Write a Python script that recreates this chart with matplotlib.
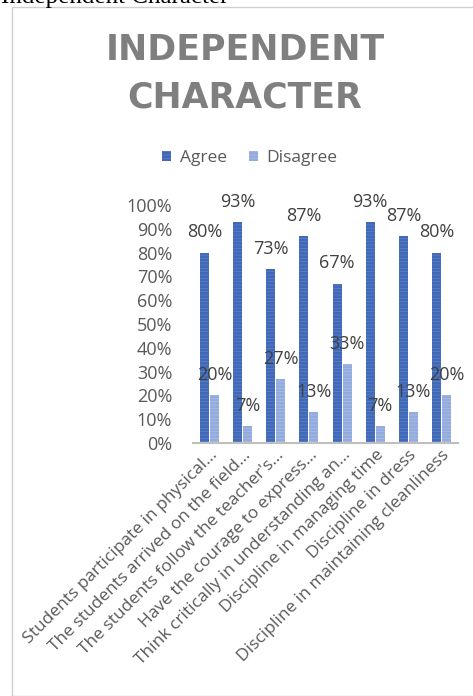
import matplotlib
matplotlib.use("Agg")
import matplotlib.pyplot as plt
from matplotlib.patches import Rectangle
import numpy as np

categories = [
    "Students participate in physical…",
    "The students arrived on the field…",
    "The students follow the teacher's…",
    "Have the courage to express…",
    "Think critically in understanding an…",
    "Discipline in managing time",
    "Discipline in dress",
    "Discipline in maintaining cleanliness",
]
agree = [80, 93, 73, 87, 67, 93, 87, 80]
disagree = [20, 7, 27, 13, 33, 7, 13, 20]
series_names = ["Agree", "Disagree"]
yticks = [0, 10, 20, 30, 40, 50, 60, 70, 80, 90, 100]

W, H = 473, 696
plt.rcParams["hatch.linewidth"] = 0.5
fig = plt.figure(figsize=(W / 100, H / 100), dpi=100)
FONT = ["Open Sans", "DejaVu Sans"]

# chart border
fig.patches.append(Rectangle((12 / W, 0), 1.2, (H - 7) / H, transform=fig.transFigure,
                             fill=False, edgecolor="#d0d0d0", linewidth=1.0))

# cropped caption at top
fig.text(228 / W, 1 - 3 / H, "Independent Character", ha="right", va="baseline",
         family=["Liberation Serif"], fontsize=18, color="black")

# title
fig.text(245 / W, 1 - 50 / H, "INDEPENDENT", ha="center", va="center",
         family=["DejaVu Sans"], fontsize=25, fontweight="bold", color="#7f7f7f")
fig.text(245 / W, 1 - 98 / H, "CHARACTER", ha="center", va="center",
         family=["DejaVu Sans"], fontsize=25, fontweight="bold", color="#7f7f7f")

left, right = 193 / W, 458 / W
bottom, top = 1 - 443 / H, 1 - 205 / H
ax = fig.add_axes([left, bottom, right - left, top - bottom])

x = np.arange(len(categories))
bw = 0.27
agree_c = "#4169b8"
dis_c = "#94abdd"
b1 = ax.bar(x - bw / 2 - 0.015, agree, bw, color=agree_c, label=series_names[0],
            hatch="-----", edgecolor="#5a82cc", linewidth=0)
b2 = ax.bar(x + bw / 2 + 0.015, disagree, bw, color=dis_c, label=series_names[1],
            hatch="-----", edgecolor="#aabde6", linewidth=0)

for rects, vals in ((b1, agree), (b2, disagree)):
    for r, v in zip(rects, vals):
        ax.annotate(f"{v}%", (r.get_x() + r.get_width() / 2, v), xytext=(0, 8),
                    textcoords="offset points", ha="center", va="bottom",
                    family=FONT, fontsize=13, color="#404040")

ax.set_xlim(-0.5, len(categories) - 0.5)
ax.set_ylim(0, 100)
ax.set_yticks(yticks)
ax.set_yticklabels([f"{t}%" for t in yticks], family=FONT, fontsize=13, color="#595959")
ax.set_xticks(x)
ax.set_xticklabels(categories, rotation=45, ha="right", rotation_mode="anchor",
                   family=FONT, fontsize=12.5, color="#595959")
ax.tick_params(axis="both", length=0)
ax.tick_params(axis="y", pad=15)
ax.tick_params(axis="x", pad=3)
for s in ("top", "right", "left"):
    ax.spines[s].set_visible(False)
ax.spines["bottom"].set_color("#bfbfbf")
ax.spines["bottom"].set_linewidth(1.5)
ax.set_facecolor("none")

fig.legend(handles=[b1, b2], labels=series_names, loc="center",
           bbox_to_anchor=(250 / W, 1 - 158 / H), ncol=2, frameon=False,
           prop={"family": FONT, "size": 12.5}, labelcolor="#595959",
           handlelength=0.5, handleheight=0.5, handletextpad=0.5, columnspacing=1.3)

fig.savefig("out.png", dpi=100)
